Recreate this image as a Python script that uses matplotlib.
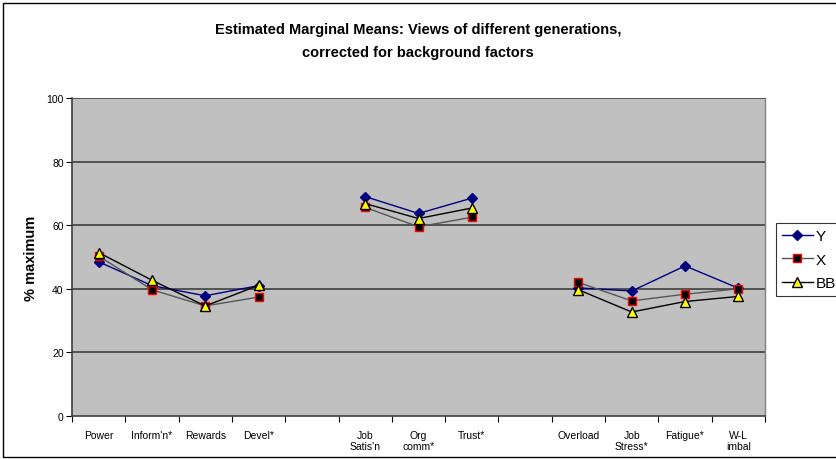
import numpy as np
import matplotlib
matplotlib.use("Agg")
import matplotlib.pyplot as plt
from matplotlib.patches import Rectangle

plt.rcParams['font.family'] = ['Liberation Sans', 'DejaVu Sans']

# categories (blank slots separate the three groups)
categories = ["Power", "Inform'n*", "Rewards", "Devel*", "",
              "Job\nSatis'n", "Org\ncomm*", "Trust*", "",
              "Overload", "Job\nStress*", "Fatigue*", "W-L\nimbal"]

# estimated marginal means, % maximum (None = gap)
y_gen = [48.5, 41.0, 37.8, 41.0, None, 69.0, 63.7, 68.5, None, 40.3, 39.3, 47.2, 40.2]
x_gen = [50.3, 39.7, 34.6, 37.4, None, 65.6, 59.5, 62.5, None, 42.0, 36.2, 38.3, 40.0]
bb_gen = [51.4, 42.7, 34.6, 41.1, None, 66.8, 62.1, 65.4, None, 39.7, 32.7, 36.0, 37.6]

def arr(v):
    return np.array([np.nan if a is None else a for a in v], dtype=float)

fig = plt.figure(figsize=(8.36, 4.6), dpi=100)
ax = fig.add_axes([72/836, 1-417/460, (765-72)/836, (417-99)/460])
ax.set_facecolor('#C0C0C0')

pos = np.arange(len(categories))
ax.plot(pos, arr(y_gen), color='#000080', lw=1, marker='D', ms=5.5,
        mfc='#000080', mec='#000080', label='Y', zorder=3)
ax.plot(pos, arr(x_gen), color='#555555', lw=1, marker='s', ms=5.5,
        mfc='black', mec='red', mew=1, label='X', zorder=3)
ax.plot(pos, arr(bb_gen), color='black', lw=1, marker='^', ms=7,
        mfc='yellow', mec='black', mew=1, label='BB', zorder=3)

ax.set_xlim(-0.5, len(categories) - 0.5)
ax.set_ylim(0, 100)
ax.set_yticks(range(0, 101, 20))
ax.tick_params(axis='y', labelsize=7.5, length=4, width=0.8, direction='out', pad=2)
for g in range(20, 101, 20):
    ax.axhline(g, color='#404040', lw=1.2, zorder=1)

ax.set_xticks(pos)
ax.set_xticklabels(categories, fontsize=7.5, linespacing=1.1)
ax.tick_params(axis='x', length=0, pad=10)
ax.set_xticks(np.arange(-0.5, len(categories), 1), minor=True)
ax.tick_params(axis='x', which='minor', length=4, width=0.8, direction='out')

for s in ['left', 'bottom']:
    ax.spines[s].set_color('#404040')
    ax.spines[s].set_linewidth(1.2)
ax.spines['top'].set_visible(False)
ax.spines['right'].set_color('#808080')
ax.spines['right'].set_linewidth(1)

ax.set_ylabel('% maximum', fontsize=10.5, fontweight='bold', labelpad=6)

fig.text(0.5, 1-30/460, 'Estimated Marginal Means: Views of different generations,',
         ha='center', va='center', fontsize=10.5, fontweight='bold')
fig.text(0.5, 1-53/460, 'corrected for background factors',
         ha='center', va='center', fontsize=10.5, fontweight='bold')

leg = fig.legend(loc='upper left', bbox_to_anchor=(776/836, 1-224/460),
                 fontsize=11, frameon=True, fancybox=False, borderpad=0.4,
                 handlelength=2.0, handletextpad=0.2, labelspacing=0.62,
                 borderaxespad=0)
leg.get_frame().set_edgecolor('black')
leg.get_frame().set_linewidth(0.8)

fig.patches.append(Rectangle((3/836, 2/460), 1.2, 1-6/460, transform=fig.transFigure,
                             fill=False, edgecolor='black', lw=1))

fig.savefig('out.png', dpi=100)
